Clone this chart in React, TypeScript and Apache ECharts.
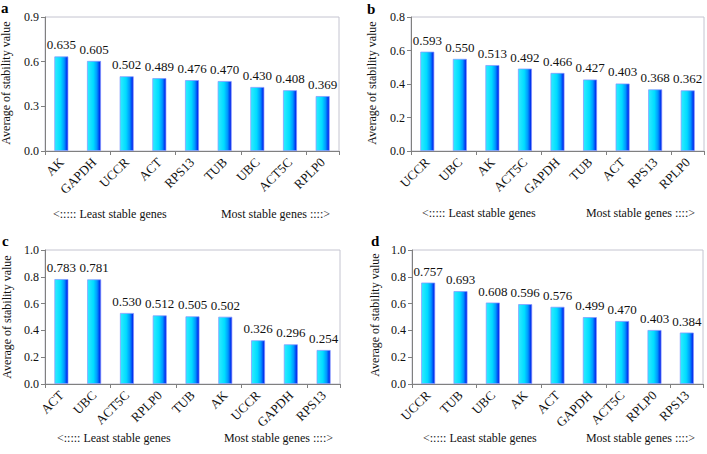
import React, { useEffect, useRef } from "react";
import * as echarts from "echarts";

// Panel a
const genesA = ["AK", "GAPDH", "UCCR", "ACT", "RPS13", "TUB", "UBC", "ACT5C", "RPLP0"];
const valuesA = [0.635, 0.605, 0.502, 0.489, 0.476, 0.47, 0.43, 0.408, 0.369];
// Panel b
const genesB = ["UCCR", "UBC", "AK", "ACT5C", "GAPDH", "TUB", "ACT", "RPS13", "RPLP0"];
const valuesB = [0.593, 0.55, 0.513, 0.492, 0.466, 0.427, 0.403, 0.368, 0.362];
// Panel c
const genesC = ["ACT", "UBC", "ACT5C", "RPLP0", "TUB", "AK", "UCCR", "GAPDH", "RPS13"];
const valuesC = [0.783, 0.781, 0.53, 0.512, 0.505, 0.502, 0.326, 0.296, 0.254];
// Panel d
const genesD = ["UCCR", "TUB", "UBC", "AK", "ACT", "GAPDH", "ACT5C", "RPLP0", "RPS13"];
const valuesD = [0.757, 0.693, 0.608, 0.596, 0.576, 0.499, 0.47, 0.403, 0.384];

const panelLetters = ["a", "b", "c", "d"];
const yMax = [0.9, 0.8, 1.0, 1.0];
const yStep = [0.3, 0.2, 0.2, 0.2];
const yAxisTitle = "Average of stability value";
const leastText = "<::::: Least stable genes";
const mostText = "Most stable genes ::::>";

const FONT = "Liberation Serif";

const grids = [
  { left: 45, top: 17, width: 294, height: 134 },
  { left: 411, top: 17, width: 293, height: 134 },
  { left: 45, top: 250, width: 295, height: 134 },
  { left: 412, top: 250, width: 291, height: 134 },
];

const barGradient = new echarts.graphic.LinearGradient(0, 0, 1, 0, [
  { offset: 0, color: "#30ecff" },
  { offset: 0.45, color: "#00dcff" },
  { offset: 0.72, color: "#0098ff" },
  { offset: 1, color: "#0010e8" },
]);

export default function App() {
  const ref = useRef<HTMLDivElement>(null);

  useEffect(() => {
    if (!ref.current) return;
    const chart = echarts.init(ref.current, undefined, { renderer: "svg" });

    const cats = [genesA, genesB, genesC, genesD];
    const vals = [valuesA, valuesB, valuesC, valuesD];

    const grid = grids.map((g) => ({
      ...g,
      show: true,
      borderColor: "#c4c4d0",
      borderWidth: 1,
      backgroundColor: "transparent",
    }));

    const xAxis = cats.map((c, i) => ({
      type: "category" as const,
      gridIndex: i,
      data: c,
      boundaryGap: true,
      axisLine: { lineStyle: { color: "#808080", width: 1 } },
      // tick marks on every second category boundary
      axisTick: { show: true, length: 4, interval: 1, lineStyle: { color: "#808080" } },
      axisLabel: {
        rotate: 45,
        margin: 9,
        fontFamily: FONT,
        fontSize: 13,
        color: "#111",
        interval: 0,
      },
    }));

    const yAxis = cats.map((_, i) => ({
      type: "value" as const,
      gridIndex: i,
      min: 0,
      max: yMax[i],
      interval: yStep[i],
      axisLine: { show: true, lineStyle: { color: "#808080", width: 1 } },
      axisTick: { show: true, length: 4, lineStyle: { color: "#808080" } },
      splitLine: { show: false },
      axisLabel: {
        fontFamily: FONT,
        fontSize: 12,
        color: "#111",
        margin: 6,
        formatter: (v: number) => v.toFixed(1),
      },
    }));

    const series = vals.map((v, i) => ({
      type: "bar" as const,
      xAxisIndex: i,
      yAxisIndex: i,
      data: v,
      barWidth: 14,
      itemStyle: {
        color: barGradient,
        borderColor: "rgba(130,150,255,0.9)",
        borderWidth: 0.8,
      },
      label: {
        show: true,
        position: "top" as const,
        distance: 5,
        fontFamily: FONT,
        fontSize: 13,
        color: "#111",
        formatter: (p: any) => Number(p.value).toFixed(3),
      },
    }));

    const letterPos = [
      [1, 0],
      [367, 1],
      [2, 233],
      [371, 233],
    ];
    const titlePos = [
      [6, 83],
      [372, 83],
      [7, 317],
      [375, 315],
    ];
    const notePos = [
      { leastX: 53, mostX: 330, y: 214 },
      { leastX: 422, mostX: 695, y: 213 },
      { leastX: 57, mostX: 333, y: 438 },
      { leastX: 423, mostX: 695, y: 438 },
    ];

    const textStyle = (size: number, bold = false) => ({
      fontFamily: FONT,
      fontSize: size,
      fontWeight: bold ? "bold" : "normal",
      fill: "#111",
    });

    const graphic: any[] = [];
    panelLetters.forEach((l, i) => {
      graphic.push({
        type: "text",
        x: letterPos[i][0],
        y: letterPos[i][1],
        style: { ...textStyle(15, true), text: l, fill: "#000", textAlign: "left", textVerticalAlign: "top" },
      });
      graphic.push({
        type: "text",
        x: titlePos[i][0],
        y: titlePos[i][1],
        rotation: Math.PI / 2,
        style: { ...textStyle(12), text: yAxisTitle, textAlign: "center", textVerticalAlign: "middle" },
      });
      graphic.push({
        type: "text",
        x: notePos[i].leastX,
        y: notePos[i].y,
        style: { ...textStyle(12), text: leastText, textAlign: "left", textVerticalAlign: "middle" },
      });
      graphic.push({
        type: "text",
        x: notePos[i].mostX,
        y: notePos[i].y,
        style: { ...textStyle(12), text: mostText, textAlign: "right", textVerticalAlign: "middle" },
      });
    });

    chart.setOption({
      animation: false,
      backgroundColor: "#ffffff",
      grid,
      xAxis,
      yAxis,
      series,
      graphic,
    });

    return () => chart.dispose();
  }, []);

  return (
    <div
      ref={ref}
      style={{ position: "fixed", left: 0, top: 0, width: 707, height: 454 }}
    />
  );
}
